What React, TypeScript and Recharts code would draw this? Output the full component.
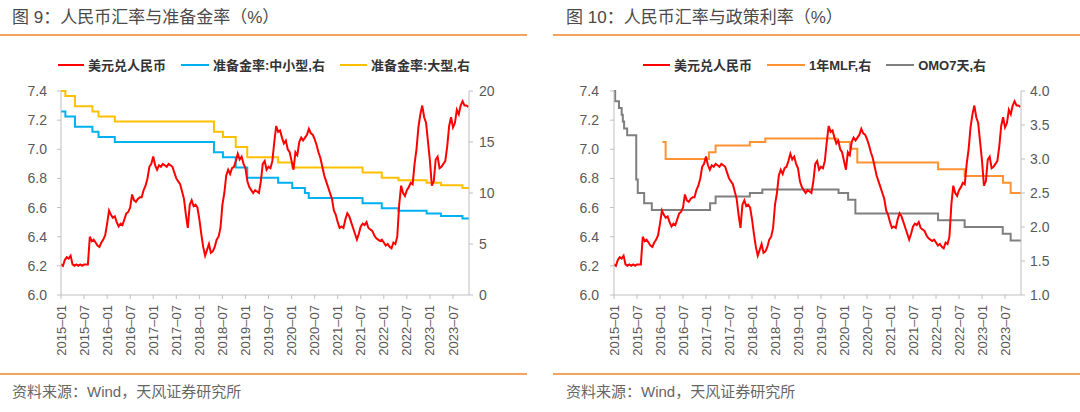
import React from "react";
import { Line, LineChart, XAxis, YAxis } from "recharts";

// month offset from 2015-01-01, used as the numeric x value
const toM = (d: string) => {
  const [y, m, day] = d.split("-").map(Number);
  return (y - 2015) * 12 + (m - 1) + ((day || 1) - 1) / 30;
};

const END_DATE = "2023-11-06";

const xTickLabels = [
  "2015-01", "2015-07", "2016-01", "2016-07", "2017-01", "2017-07",
  "2018-01", "2018-07", "2019-01", "2019-07", "2020-01", "2020-07",
  "2021-01", "2021-07", "2022-01", "2022-07", "2023-01", "2023-07",
];

// USD/CNY, twice a month from 2015-01
const usdCny = [
  6.21, 6.2, 6.24, 6.26, 6.25, 6.27, 6.21, 6.2, 6.21, 6.2, 6.21, 6.2,
  6.21, 6.21, 6.21, 6.4, 6.37, 6.38, 6.36, 6.34, 6.33, 6.36, 6.38, 6.41,
  6.49, 6.58, 6.55, 6.53, 6.54, 6.5, 6.47, 6.49, 6.48, 6.52, 6.56, 6.57,
  6.6, 6.69, 6.65, 6.64, 6.66, 6.67, 6.67, 6.72, 6.75, 6.8, 6.88, 6.9,
  6.95, 6.89, 6.86, 6.89, 6.88, 6.9, 6.89, 6.88, 6.9, 6.89, 6.88, 6.84,
  6.8, 6.78, 6.76, 6.71, 6.66, 6.55, 6.46, 6.62, 6.65, 6.61, 6.62, 6.6,
  6.52, 6.42, 6.33, 6.27, 6.31, 6.35, 6.29, 6.3, 6.33, 6.38, 6.4, 6.46,
  6.62, 6.7, 6.82, 6.86, 6.83, 6.87, 6.88, 6.92, 6.97, 6.93, 6.95, 6.9,
  6.87, 6.78, 6.74, 6.72, 6.7, 6.72, 6.71, 6.7, 6.78, 6.9, 6.92, 6.86,
  6.88, 6.87, 6.92, 7.05, 7.16, 7.12, 7.13, 7.08, 7.04, 7.06, 7.0, 6.98,
  6.92, 6.86, 6.98, 6.96, 7.05, 7.08, 7.06, 7.08, 7.1, 7.14, 7.11, 7.1,
  7.07, 7.03, 6.98, 6.94, 6.88, 6.82, 6.78, 6.74, 6.7, 6.66, 6.58, 6.55,
  6.5, 6.46, 6.47, 6.46, 6.52, 6.56, 6.54, 6.5, 6.46, 6.42, 6.38, 6.42,
  6.47, 6.49, 6.48, 6.5, 6.46, 6.45, 6.44, 6.41, 6.39, 6.38, 6.37, 6.38,
  6.36, 6.34, 6.35, 6.33, 6.32, 6.36, 6.35, 6.4, 6.62, 6.75, 6.7, 6.68,
  6.72, 6.74, 6.77, 6.76, 6.9, 7.0, 7.15, 7.24, 7.3, 7.22, 7.18, 7.05,
  6.92, 6.75, 6.78, 6.93, 6.95, 6.87, 6.88, 6.9, 6.92, 7.02, 7.16, 7.22,
  7.15, 7.18, 7.27, 7.24, 7.3, 7.33, 7.3, 7.3, 7.29,
];

// reserve requirement ratio change dates and levels
const rrrDates = [
  "2015-01-01", "2015-02-05", "2015-04-20", "2015-09-06", "2015-10-24",
  "2016-03-01", "2018-04-25", "2018-07-05", "2018-10-15", "2019-01-15",
  "2019-09-16", "2020-01-06", "2020-04-15", "2020-05-15", "2021-07-15",
  "2021-12-15", "2022-04-25", "2022-12-05", "2023-03-27", "2023-09-15",
];
const rrrLarge = [
  20, 19.5, 18.5, 18, 17.5, 17, 16, 15.5, 14.5, 13.5,
  13, 12.5, 12.5, 12.5, 12, 11.5, 11.25, 11, 10.75, 10.5,
];
const rrrSmall = [
  18, 17.5, 16.5, 16, 15.5, 15, 14, 13.5, 12.5, 11.5,
  11, 10.5, 10, 9.5, 9, 8.5, 8.25, 8, 7.75, 7.5,
];

// 1Y MLF
const mlfDates = [
  "2016-01-20", "2016-02-15", "2017-01-24", "2017-03-16", "2017-12-14",
  "2018-04-15", "2019-11-05", "2020-02-17", "2020-04-15", "2022-01-17",
  "2022-08-15", "2023-06-15", "2023-08-15",
];
const mlfRate = [3.25, 3.0, 3.1, 3.2, 3.25, 3.3, 3.25, 3.15, 2.95, 2.85, 2.75, 2.65, 2.5];

// 7-day reverse repo
const omoDates = [
  "2015-01-01", "2015-01-10", "2015-02-10", "2015-03-01", "2015-03-10",
  "2015-03-20", "2015-04-14", "2015-06-25", "2015-07-07", "2015-08-27",
  "2015-10-27", "2017-02-03", "2017-03-16", "2017-12-14", "2018-03-22",
  "2019-11-18", "2020-02-03", "2020-03-30", "2022-01-17", "2022-08-15",
  "2023-06-13", "2023-08-15",
];
const omoRate = [
  4.0, 3.85, 3.75, 3.65, 3.55, 3.45, 3.35, 2.7, 2.5, 2.35, 2.25,
  2.35, 2.45, 2.5, 2.55, 2.5, 2.4, 2.2, 2.1, 2.0, 1.9, 1.8,
];

const leftTicks = [6.0, 6.2, 6.4, 6.6, 6.8, 7.0, 7.2, 7.4];
const rrrTicks = [0, 5, 10, 15, 20];
const rateTicks = [1.0, 1.5, 2.0, 2.5, 3.0, 3.5, 4.0];

const END_M = toM(END_DATE);
const xTicks = xTickLabels.map((l) => toM(l + "-01"));
const fxData = usdCny.map((v, i) => ({ t: i / 2, v }));
const steps = (dates: string[], vals: number[]) => [
  ...dates.map((d, i) => ({ t: toM(d), v: vals[i] })),
  { t: END_M, v: vals[vals.length - 1] },
];
const largeData = steps(rrrDates, rrrLarge);
const smallData = steps(rrrDates, rrrSmall);
const mlfData = steps(mlfDates, mlfRate);
const omoData = steps(omoDates, omoRate);

const FONT = '"Liberation Sans", Arial, "Noto Sans CJK SC", sans-serif';
const AXIS = "#BFBFBF";
const TEXT = "#595959";
const RULE = "#F5A35E";

const DateTick = ({ x, y, payload }: any) => {
  const i = xTicks.indexOf(payload.value);
  return (
    <text
      x={x}
      y={y}
      transform={`rotate(-90 ${x} ${y})`}
      textAnchor="end"
      dy="0.35em"
      fill={TEXT}
      fontSize={13}
      fontFamily={FONT}
    >
      {(xTickLabels[i] || "").replace("-", "–")}
    </text>
  );
};

type Item = { name: string; color: string; w: number };

const LegendRow = ({ items, left }: { items: Item[]; left: number }) => (
  <div
    style={{
      position: "absolute",
      top: 55,
      left,
      display: "flex",
      alignItems: "center",
      fontFamily: FONT,
      fontSize: 13,
      fontWeight: "bold",
      color: "#333",
      whiteSpace: "nowrap",
    }}
  >
    {items.map((it) => (
      <div key={it.name} style={{ display: "flex", alignItems: "center", marginRight: 15 }}>
        <span style={{ width: it.w, height: 2, background: it.color, marginRight: 4 }} />
        <span>{it.name}</span>
      </div>
    ))}
  </div>
);

const Frame = ({ left, title, children }: any) => (
  <div style={{ position: "absolute", left, top: 0, width: 540, height: 412 }}>
    <div
      style={{
        position: "absolute",
        left: left === 0 ? 12 : 26,
        top: 8,
        lineHeight: "20px",
        fontSize: 17,
        color: "#4a4a4a",
        fontFamily: FONT,
        whiteSpace: "nowrap",
      }}
    >
      {title}
    </div>
    <div
      style={{
        position: "absolute",
        left: left === 0 ? 0 : 13,
        top: 34,
        width: 527,
        height: 2,
        background: RULE,
      }}
    />
    {children}
    <div
      style={{
        position: "absolute",
        left: left === 0 ? 0 : 13,
        top: 373,
        width: 527,
        height: 2,
        background: RULE,
      }}
    />
    <div
      style={{
        position: "absolute",
        left: left === 0 ? 12 : 26,
        top: 382,
        lineHeight: "20px",
        fontSize: 15,
        color: "#666",
        fontFamily: FONT,
        whiteSpace: "nowrap",
      }}
    >
      资料来源：Wind，天风证券研究所
    </div>
  </div>
);

const axisProps = {
  axisLine: { stroke: AXIS },
  tickLine: { stroke: AXIS },
  tickSize: 4,
  tick: { fill: TEXT, fontSize: 14, fontFamily: FONT },
};

const xAxis = (
  <XAxis
    type="number"
    dataKey="t"
    domain={[0, END_M]}
    ticks={xTicks}
    interval={0}
    height={65}
    tickMargin={6}
    tick={<DateTick />}
    axisLine={{ stroke: AXIS }}
    tickLine={{ stroke: AXIS }}
    tickSize={4}
    allowDataOverflow
  />
);

const ReserveChart = () => (
  <Frame left={0} title="图 9：人民币汇率与准备金率（%）">
    <LegendRow
      left={58}
      items={[
        { name: "美元兑人民币", color: "#FF0000", w: 26 },
        { name: "准备金率:中小型,右", color: "#00B0F0", w: 28 },
        { name: "准备金率:大型,右", color: "#FFC000", w: 27 },
      ]}
    />
    <div style={{ position: "absolute", left: 0, top: 0 }}>
      <LineChart width={540} height={380} margin={{ top: 91, right: 31, bottom: 20, left: 21 }}>
        {xAxis}
        <YAxis
          yAxisId="l"
          domain={[6, 7.4]}
          ticks={leftTicks}
          tickFormatter={(v: number) => v.toFixed(1)}
          width={40}
          tickMargin={10}
          {...axisProps}
        />
        <YAxis
          yAxisId="r"
          orientation="right"
          domain={[0, 20]}
          ticks={rrrTicks}
          width={40}
          tickMargin={6}
          {...axisProps}
        />
        <Line yAxisId="r" data={largeData} dataKey="v" type="stepAfter" stroke="#FFC000" strokeWidth={2} dot={false} isAnimationActive={false} />
        <Line yAxisId="r" data={smallData} dataKey="v" type="stepAfter" stroke="#00B0F0" strokeWidth={2} dot={false} isAnimationActive={false} />
        <Line yAxisId="l" data={fxData} dataKey="v" type="linear" stroke="#FF0000" strokeWidth={2} dot={false} isAnimationActive={false} />
      </LineChart>
    </div>
  </Frame>
);

const PolicyChart = () => (
  <Frame left={540} title="图 10：人民币汇率与政策利率（%）">
    <LegendRow
      left={103}
      items={[
        { name: "美元兑人民币", color: "#FF0000", w: 27 },
        { name: "1年MLF,右", color: "#FF9234", w: 38 },
        { name: "OMO7天,右", color: "#7F7F7F", w: 28 },
      ]}
    />
    <div style={{ position: "absolute", left: 0, top: 0 }}>
      <LineChart width={540} height={380} margin={{ top: 91, right: 19, bottom: 20, left: 34 }}>
        {xAxis}
        <YAxis
          yAxisId="l"
          domain={[6, 7.4]}
          ticks={leftTicks}
          tickFormatter={(v: number) => v.toFixed(1)}
          width={40}
          tickMargin={11}
          {...axisProps}
        />
        <YAxis
          yAxisId="r"
          orientation="right"
          domain={[1, 4]}
          ticks={rateTicks}
          tickFormatter={(v: number) => v.toFixed(1)}
          width={40}
          tickMargin={5}
          {...axisProps}
        />
        <Line yAxisId="r" data={mlfData} dataKey="v" type="stepAfter" stroke="#FF9234" strokeWidth={2} dot={false} isAnimationActive={false} />
        <Line yAxisId="r" data={omoData} dataKey="v" type="stepAfter" stroke="#7F7F7F" strokeWidth={2} dot={false} isAnimationActive={false} />
        <Line yAxisId="l" data={fxData} dataKey="v" type="linear" stroke="#FF0000" strokeWidth={2} dot={false} isAnimationActive={false} />
      </LineChart>
    </div>
  </Frame>
);

export default function App() {
  return (
    <div
      style={{
        position: "absolute",
        left: 0,
        top: 0,
        width: 1080,
        height: 412,
        background: "#fff",
        overflow: "hidden",
      }}
    >
      <ReserveChart />
      <PolicyChart />
    </div>
  );
}
